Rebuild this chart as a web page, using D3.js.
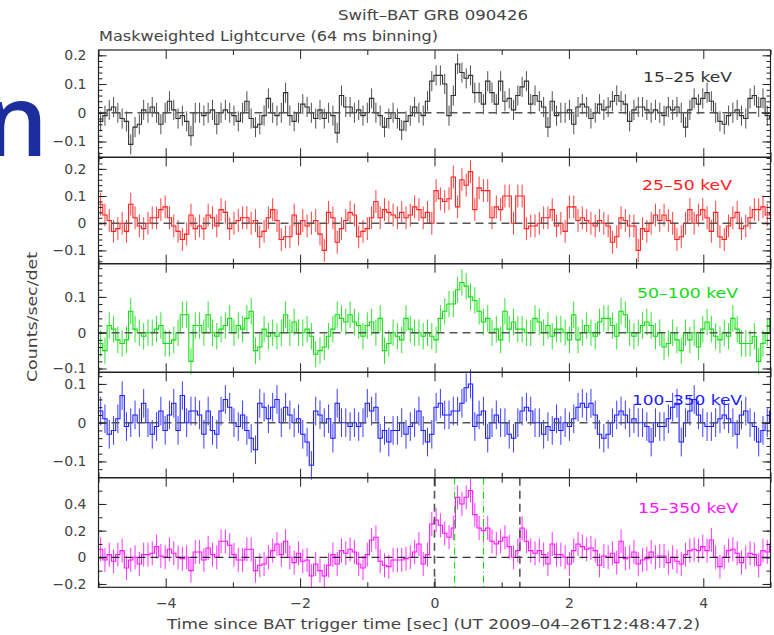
<!DOCTYPE html>
<meta charset="utf-8">
<style>
body { margin: 0; background: #fff; }
text { font-family: "DejaVu Sans", sans-serif; fill: #444; font-size: 14px; }
</style>
<svg width="774" height="635"></svg>
<script src="https://d3js.org/d3.v7.min.js"></script>
<script>

// energy bands
var bands = ["15–25 keV", "25–50 keV", "50–100 keV", "100–350 keV", "15–350 keV"];
var bandColors = ["#333333", "#ff2020", "#11dd11", "#1c1cff", "#ff10ff"];
var bandErr = [0.035, 0.042, 0.037, 0.037, 0.09];

// 64 ms bins starting at -5 s
var binStart = -5.0, binWidth = 0.064;

var rate1525 = [
  -0.03, -0.01, 0.01, 0.02, 0.0, -0.02, -0.03, -0.11, -0.05, -0.04,
  0.01, 0.0, 0.02, 0.0, -0.04, 0.0, 0.04, 0.01, -0.02, -0.01,
  -0.03, -0.08, 0.0, 0.0, -0.01, 0.0, 0.01, -0.04, 0.0, 0.01,
  0.0, -0.01, -0.03, 0.0, 0.04, -0.02, -0.05, -0.04, -0.01, 0.05,
  0.0, -0.01, 0.0, 0.07, -0.01, -0.03, 0.0, 0.03, 0.02, 0.0,
  -0.02, 0.01, -0.02, 0.0, -0.01, -0.07, 0.06, 0.02, 0.02, 0.0,
  0.01, -0.01, 0.0, 0.05, 0.0, -0.01, -0.05, -0.02, 0.0,
  -0.02, -0.06, -0.03, -0.01, 0.02, 0.0, -0.01, 0.04, 0.11, 0.13, 0.13,
  0.10, -0.01, 0.06, 0.17, 0.14, 0.12, 0.13, 0.07, 0.07, 0.03,
  0.11, 0.07, 0.03, 0.11, 0.04, 0.05, 0.01, 0.06, 0.09, 0.11,
  0.03, 0.06, 0.04, 0.02, -0.05, 0.04, -0.01, 0.0,
  0.0, 0.01, -0.04, 0.02, 0.03, 0.02, -0.02, 0.0, 0.03, 0.01, 0.02, 0.04,
  0.06, 0.04, 0.03, -0.03, 0.01, 0.02, 0.02, 0.01, 0.0, 0.01,
  0.0, -0.01, 0.02, 0.01, 0.02, 0.0, -0.05, 0.01, 0.05, 0.03,
  0.05, 0.07, 0.04, 0.0, -0.03, -0.04, -0.01, 0.0, 0.01, -0.01,
  -0.02, 0.05, 0.06, 0.02, 0.05, -0.01, -0.02
];

var rate2550 = [
  0.07, 0.03, 0.01, -0.03, -0.02, 0.0, -0.03, 0.07, 0.02, -0.01,
  -0.02, 0.0, 0.02, 0.02, 0.05, 0.06, 0.02, -0.01, -0.03, -0.06,
  -0.04, 0.03, -0.02, -0.01, -0.02, 0.03, 0.02, -0.01, 0.05, 0.04,
  -0.02, 0.0, 0.01, 0.02, 0.02, 0.0, 0.01, -0.05, -0.03, 0.02,
  0.05, 0.01, -0.06, -0.05, -0.05, 0.03, -0.04, 0.01, -0.01, 0.0,
  0.01, -0.04, -0.10, 0.04, 0.02, -0.07, -0.02, 0.01, 0.04, 0.03,
  -0.05, -0.03, -0.02, 0.02, 0.08, 0.02, 0.05, 0.04, 0.03, 0.02,
  0.04, 0.02, 0.03, 0.06, 0.05, 0.02, 0.04, 0.0, 0.12, 0.09,
  0.08, 0.09, 0.17, 0.06, 0.16, 0.14, 0.19, 0.05, 0.13, 0.12,
  0.12, 0.02, 0.06, 0.05, 0.10, 0.10, 0.0, 0.10, 0.10, -0.02,
  -0.01, -0.01, 0.0, 0.02, 0.02, 0.05, -0.01, 0.0, -0.03, 0.06,
  0.06, 0.01, 0.02, 0.01, 0.0, -0.01, 0.01, 0.0, -0.01, -0.07,
  -0.05, 0.02, 0.01, -0.01, -0.01, -0.10, -0.02, -0.03, 0.0, 0.03,
  0.01, 0.03, 0.01, 0.0, -0.06, -0.05, 0.0, 0.05, 0.0, 0.03,
  0.05, 0.02, -0.03, 0.04, -0.05, -0.06, -0.01, 0.02, 0.04, -0.02,
  -0.01, 0.02, 0.05, 0.05, 0.06, 0.03, 0.04
];

var rate50100 = [
  -0.03, -0.05, 0.02, 0.01, -0.02, -0.03, -0.02, 0.06, 0.01, 0.0,
  -0.01, 0.0, 0.0, 0.01, 0.02, -0.03, -0.03, -0.02, 0.0, 0.05,
  0.05, -0.08, 0.02, 0.02, 0.0, 0.05, 0.0, -0.01, 0.01, 0.02,
  0.04, 0.0, 0.02, 0.01, 0.04, 0.06, -0.05, -0.04, 0.01, -0.01,
  0.0, -0.01, 0.0, 0.05, 0.0, 0.03, 0.0, 0.0, 0.01, -0.01,
  -0.06, -0.05, -0.04, -0.01, 0.01, 0.05, 0.04, 0.03, 0.05, 0.03,
  0.02, -0.01, 0.02, 0.03, 0.0, 0.04, -0.05, -0.03, 0.0, -0.01,
  -0.02, 0.04, 0.01, 0.0, 0.0, -0.01, 0.0, -0.01, -0.02, 0.04,
  0.06, 0.08, 0.08, 0.12, 0.14, 0.13, 0.10, 0.09, 0.06, 0.03,
  0.04, 0.0, 0.01, -0.02, 0.06, 0.01, 0.03, 0.01, 0.01, 0.0,
  0.0, 0.04, 0.03, 0.0, 0.02, -0.01, 0.01, 0.01, 0.0, -0.02,
  0.05, -0.02, 0.0, 0.02, 0.0, -0.01, 0.03, 0.04, 0.04, 0.02,
  -0.01, 0.06, 0.05, 0.0, -0.01, 0.0, 0.02, 0.03, 0.02, -0.01,
  0.0, -0.04, -0.03, 0.0, -0.02, -0.05, 0.0, -0.02, 0.0, -0.04,
  0.01, 0.03, 0.01, -0.01, -0.02, 0.0, -0.01, 0.04, 0.01, -0.03,
  -0.03, -0.03, -0.01, -0.08, -0.03, 0.0, 0.04
];

var rate100350 = [
  0.03, 0.01, -0.03, -0.02, 0.01, 0.07, -0.01, 0.0, 0.02, 0.0,
  0.05, 0.0, -0.03, -0.01, 0.03, -0.02, 0.02, 0.05, -0.02, 0.07,
  0.0, 0.03, 0.03, 0.02, -0.03, 0.03, -0.02, -0.03, 0.03, 0.06,
  0.04, 0.0, -0.01, 0.02, -0.02, -0.04, -0.07, 0.05, 0.04, 0.01,
  0.04, 0.06, 0.0, 0.04, 0.02, 0.0, 0.01, -0.03, -0.05, -0.11,
  0.03, 0.02, 0.0, 0.01, -0.04, 0.05, 0.0, 0.0, -0.01, 0.0,
  -0.01, 0.0, 0.05, 0.03, 0.04, -0.04, -0.02, -0.05, -0.02, -0.02,
  0.0, -0.03, -0.01, 0.0, 0.03, -0.02, -0.05, -0.03, 0.04, 0.05,
  0.02, 0.02, 0.03, 0.03, 0.05, 0.09, 0.10, -0.01, 0.02, 0.03,
  -0.04, 0.0, 0.02, 0.0, 0.0, -0.03, -0.04, 0.0, 0.03, 0.04,
  0.03, 0.0, 0.0, -0.03, -0.01, -0.02, 0.01, -0.02, 0.0, -0.01,
  0.01, 0.04, 0.05, 0.04, 0.05, 0.02, -0.03, -0.04, -0.03, 0.0,
  0.02, 0.03, 0.02, 0.0, 0.01, 0.0, 0.0, -0.01, -0.05, 0.0,
  -0.01, -0.01, 0.01, 0.04, 0.05, -0.05, 0.0, 0.03, 0.06, 0.02,
  0.0, -0.01, -0.01, 0.0, 0.01, 0.02, 0.01, 0.0, -0.03, 0.02,
  0.03, 0.0, -0.01, -0.05, -0.02, 0.0, 0.03
];

var rate15350 = [
  0.06, -0.02, 0.02, -0.03, 0.02, 0.05, -0.08, -0.02, 0.0, -0.05,
  0.02, 0.02, 0.03, 0.08, 0.01, 0.0, 0.06, 0.03, 0.0, -0.01,
  0.0, -0.10, 0.04, 0.04, -0.02, 0.07, 0.02, 0.0, 0.12, 0.12,
  0.09, 0.02, -0.02, -0.02, 0.06, 0.06, -0.10, -0.06, -0.05, 0.0,
  0.05, 0.10, 0.02, 0.12, 0.0, -0.04, 0.03, -0.03, -0.02, -0.14,
  -0.05, -0.10, -0.14, -0.06, 0.02, -0.05, 0.05, 0.03, 0.06, 0.04,
  -0.05, -0.08, 0.02, 0.13, 0.15, -0.03, -0.06, -0.07, -0.02, -0.02,
  -0.02, -0.01, 0.0, 0.04, 0.10, -0.05, 0.02, 0.25, 0.28, 0.24,
  0.18, 0.15, 0.22, 0.45, 0.40, 0.45, 0.50, 0.32, 0.22, 0.20,
  0.22, 0.12, 0.10, 0.12, 0.15, 0.08, 0.0, 0.05, 0.22, 0.12,
  0.05, 0.03, 0.05, 0.02, -0.05, 0.10, 0.02, 0.02, 0.0, -0.05,
  0.05, 0.10, 0.08, 0.06, 0.07, 0.05, -0.06, 0.01, 0.0, 0.03,
  -0.04, 0.12, -0.01, 0.0, 0.04, -0.05, -0.02, -0.01, 0.04, 0.0,
  0.01, 0.01, -0.04, 0.0, -0.03, -0.05, 0.02, 0.05, 0.06, 0.05,
  0.08, 0.05, 0.13, 0.0, -0.07, 0.0, 0.05, 0.06, 0.03, -0.04,
  0.0, 0.03, 0.02, -0.06, 0.05, 0.04, 0.10
];

var rates = [rate1525, rate2550, rate50100, rate100350, rate15350];

// T90 (black dashed) and T50 (green dash-dot) intervals
var t90 = [0.0, 1.27];
var t50 = [0.30, 0.73];

var xTicksMajor = [-4, -2, 0, 2, 4];
var xTicksMinor = [-5, -3, -1, 1, 3, 5];
var yTicks = [[-0.1, 0, 0.1, 0.2], [-0.1, 0, 0.1, 0.2], [-0.1, 0, 0.1], [-0.1, 0, 0.1], [-0.2, 0, 0.2, 0.4]];
var yMinorStep = [0.02, 0.02, 0.02, 0.02, 0.1];
var yDomains = [[-0.155, 0.2185], [-0.149, 0.2426], [-0.1106, 0.1927], [-0.142, 0.130], [-0.225, 0.597]];

var svg = d3.select("svg");
var left = 98.5, right = 770.5;
var edges = [50, 157.3, 263.7, 372.3, 477.7, 587.3];

var x = d3.scaleLinear().domain([-5, 5]).range([left, right]);

svg.append("defs").append("clipPath").attr("id", "clipx")
  .append("rect").attr("x", left).attr("y", 0).attr("width", right - left).attr("height", 635);

// stray slide letter on the left edge (cut off in the original too)
svg.append("text")
  .attr("x", -15.5).attr("y", 156)
  .style("font-family", "'Open Sans', sans-serif")
  .style("font-size", "100px")
  .style("font-weight", 600)
  .style("fill", "#1c2d9c")
  .text("n");

function fmt(v) { return v === 0 ? "0" : d3.format(".1f")(v); }

function stripDomain(g) {
  g.select(".domain").remove();
  g.attr("font-size", null).attr("font-family", null).attr("color", "#222");
}

rates.forEach(function(vals, p) {
  var y = d3.scaleLinear().domain(yDomains[p]).range([edges[p + 1], edges[p]]);
  var col = bandColors[p];
  var err = bandErr[p];
  var g = svg.append("g");

  var dg = g.append("g").attr("clip-path", "url(#clipx)");

  var pts = vals.map(function(v, i) { return [binStart + i * binWidth, v]; });
  pts.push([binStart + vals.length * binWidth, vals[vals.length - 1]]);

  dg.selectAll("line.err")
    .data(vals)
    .join("line")
      .attr("class", "err")
      .attr("x1", function(d, i) { return x(binStart + (i + 0.5) * binWidth); })
      .attr("x2", function(d, i) { return x(binStart + (i + 0.5) * binWidth); })
      .attr("y1", function(d) { return y(d - err); })
      .attr("y2", function(d) { return y(d + err); })
      .attr("stroke", col)
      .attr("stroke-opacity", 0.85)
      .attr("stroke-width", 1);

  var line = d3.line()
    .x(function(d) { return x(d[0]); })
    .y(function(d) { return y(d[1]); })
    .curve(d3.curveStepAfter);

  dg.append("path")
    .attr("d", line(pts))
    .attr("fill", "none")
    .attr("stroke", col)
    .attr("stroke-width", 1.1);

  // zero level
  var last = p === rates.length - 1;
  g.append("line")
    .attr("x1", left).attr("x2", right)
    .attr("y1", y(0)).attr("y2", y(0))
    .attr("stroke", last ? "#000" : "#555")
    .attr("stroke-width", last ? 1 : 1.6)
    .attr("stroke-dasharray", "8,5");

  if (last) {
    t90.forEach(function(t) {
      g.append("line")
        .attr("x1", x(t)).attr("x2", x(t))
        .attr("y1", edges[p]).attr("y2", edges[p + 1])
        .attr("stroke", "#555").attr("stroke-width", 1.6)
        .attr("stroke-dasharray", "8,5");
    });
    t50.forEach(function(t) {
      g.append("line")
        .attr("x1", x(t)).attr("x2", x(t))
        .attr("y1", edges[p]).attr("y2", edges[p + 1])
        .attr("stroke", "#00dd00").attr("stroke-width", 1)
        .attr("stroke-dasharray", "7,3,1,3");
    });
  }

  // frame
  g.append("rect")
    .attr("x", left).attr("y", edges[p])
    .attr("width", right - left).attr("height", edges[p + 1] - edges[p])
    .attr("fill", "none").attr("stroke", "#222").attr("stroke-width", 1.2);

  // y axes
  var s = yMinorStep[p];
  var minor = d3.range(Math.ceil(yDomains[p][0] / s - 1e-6), Math.floor(yDomains[p][1] / s + 1e-6) + 1)
    .map(function(k) { return +(k * s).toFixed(3); });

  g.append("g").attr("transform", "translate(" + left + ",0)")
    .call(d3.axisLeft(y).tickValues(yTicks[p]).tickSize(-8).tickPadding(12).tickFormat(fmt))
    .call(stripDomain);
  g.append("g").attr("transform", "translate(" + left + ",0)")
    .call(d3.axisLeft(y).tickValues(minor).tickSize(-4).tickFormat(""))
    .call(stripDomain);
  g.append("g").attr("transform", "translate(" + right + ",0)")
    .call(d3.axisRight(y).tickValues(yTicks[p]).tickSize(-8).tickFormat(""))
    .call(stripDomain);
  g.append("g").attr("transform", "translate(" + right + ",0)")
    .call(d3.axisRight(y).tickValues(minor).tickSize(-4).tickFormat(""))
    .call(stripDomain);

  // x ticks on top and bottom of each panel
  g.append("g").attr("transform", "translate(0," + edges[p] + ")")
    .call(d3.axisTop(x).tickValues(xTicksMajor).tickSize(-9).tickFormat(""))
    .call(stripDomain);
  g.append("g").attr("transform", "translate(0," + edges[p] + ")")
    .call(d3.axisTop(x).tickValues(xTicksMinor).tickSize(-5).tickFormat(""))
    .call(stripDomain);
  g.append("g").attr("transform", "translate(0," + edges[p + 1] + ")")
    .call(d3.axisBottom(x).tickValues(xTicksMajor).tickSize(-9).tickPadding(11)
      .tickFormat(last ? function(v) { return d3.format("d")(v); } : ""))
    .call(stripDomain);
  g.append("g").attr("transform", "translate(0," + edges[p + 1] + ")")
    .call(d3.axisBottom(x).tickValues(xTicksMinor).tickSize(-5).tickFormat(""))
    .call(stripDomain);
});

// band labels
var labelPos = [[643, 82, 89], [642, 190, 90], [637, 298, 101], [632, 405, 110], [638, 513, 100]];
bands.forEach(function(b, p) {
  svg.append("text")
    .attr("x", labelPos[p][0]).attr("y", labelPos[p][1])
    .attr("textLength", labelPos[p][2]).attr("lengthAdjust", "spacingAndGlyphs")
    .style("fill", bandColors[p])
    .text(b);
});

svg.append("text").attr("x", 338).attr("y", 20)
  .attr("textLength", 190).attr("lengthAdjust", "spacingAndGlyphs")
  .text("Swift–BAT GRB 090426");
svg.append("text").attr("x", 99).attr("y", 40.5)
  .attr("textLength", 339).attr("lengthAdjust", "spacingAndGlyphs")
  .text("Maskweighted Lightcurve (64 ms binning)");
svg.append("text").attr("x", 167).attr("y", 629)
  .attr("textLength", 533).attr("lengthAdjust", "spacingAndGlyphs")
  .text("Time since BAT trigger time [sec] (UT 2009–04–26T12:48:47.2)");
svg.append("text").attr("transform", "translate(37,382) rotate(-90)")
  .attr("textLength", 130).attr("lengthAdjust", "spacingAndGlyphs")
  .text("Counts/sec/det");

</script>
